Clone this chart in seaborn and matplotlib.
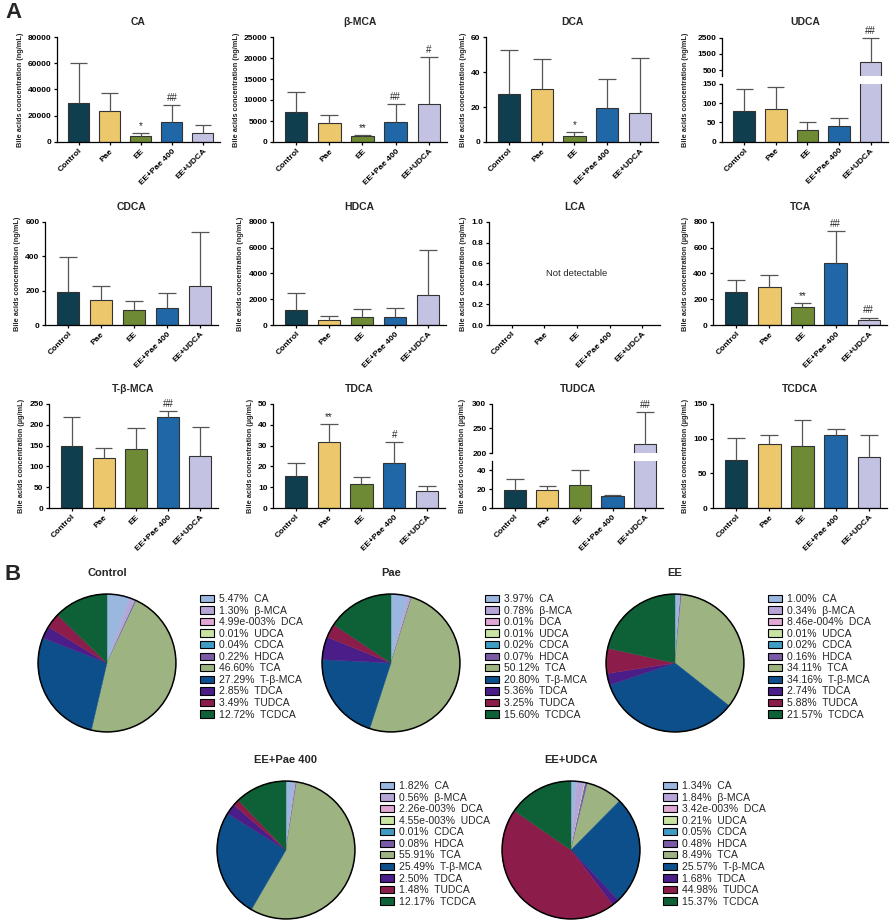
import numpy as np
import seaborn as sns
import matplotlib.pyplot as plt
from matplotlib.patches import Patch, Circle

sns.set_style('ticks')
plt.rcParams['font.family'] = ['Liberation Sans', 'DejaVu Sans']
plt.rcParams['font.weight'] = 'bold'
plt.rcParams['axes.labelweight'] = 'bold'
plt.rcParams['axes.titleweight'] = 'bold'

W, H = 892, 922

groups = ['Control', 'Pae', 'EE', 'EE+Pae 400', 'EE+UDCA']
bar_colors = ['#0f3e4f', '#ecc76b', '#6f8a34', '#1f67a6', '#c3c2e2']

# mean and top of error bar
ca_mean = [30000, 23500, 4200, 15500, 6500]
ca_top = [60000, 37500, 6500, 28000, 12800]
ca_sig = ['', '', '*', '##', '']

bmca_mean = [7100, 4600, 1400, 4700, 9000]
bmca_top = [12000, 6400, 1700, 9100, 20300]
bmca_sig = ['', '', '**', '##', '#']

dca_mean = [27.3, 30.4, 3.5, 19.5, 16.6]
dca_top = [52.8, 47.6, 5.7, 36.0, 47.8]
dca_sig = ['', '', '*', '', '']

udca_mean = [80, 86, 31, 40, 1000]
udca_top = [136, 141, 50, 61, 2500]
udca_sig = ['', '', '', '', '##']

cdca_mean = [193, 143, 90, 98, 225]
cdca_top = [395, 230, 138, 185, 540]
cdca_sig = ['', '', '', '', '']

hdca_mean = [1200, 420, 650, 620, 2350]
hdca_top = [2480, 700, 1230, 1300, 5850]
hdca_sig = ['', '', '', '', '']

tca_mean = [255, 292, 140, 480, 40]
tca_top = [350, 385, 170, 730, 58]
tca_sig = ['', '', '**', '##', '##']

tbmca_mean = [148, 121, 141, 218, 124]
tbmca_top = [218, 145, 192, 232, 195]
tbmca_sig = ['', '', '', '##', '']

tdca_mean = [15.5, 31.5, 11.5, 21.5, 8.2]
tdca_top = [21.5, 40.5, 15.0, 31.5, 10.5]
tdca_sig = ['', '**', '', '#', '']

tudca_mean = [19, 19, 24.5, 12.5, 218]
tudca_top = [31, 23, 40.5, 14, 283]
tudca_sig = ['', '', '', '', '##']

tcdca_mean = [69, 92, 89, 105, 74]
tcdca_top = [101, 106, 127, 114, 105]
tcdca_sig = ['', '', '', '', '']

# pie composition (%)
acids = ['CA', 'β-MCA', 'DCA', 'UDCA', 'CDCA', 'HDCA', 'TCA', 'T-β-MCA', 'TDCA', 'TUDCA', 'TCDCA']
acid_colors = ['#9ab7df', '#b7a5d8', '#e2a8d4', '#c9e3a2', '#3f9cc4', '#7a5aa6',
               '#9db482', '#0d4f8b', '#4b1d88', '#8c1d4b', '#0e6136']
control_pct = [5.47, 1.30, 4.99e-3, 0.01, 0.04, 0.22, 46.60, 27.29, 2.85, 3.49, 12.72]
pae_pct = [3.97, 0.78, 0.01, 0.01, 0.02, 0.07, 50.12, 20.80, 5.36, 3.25, 15.60]
ee_pct = [1.00, 0.34, 8.46e-4, 0.01, 0.02, 0.16, 34.11, 34.16, 2.74, 5.88, 21.57]
eepae_pct = [1.82, 0.56, 2.26e-3, 4.55e-3, 0.01, 0.08, 55.91, 25.49, 2.50, 1.48, 12.17]
eeudca_pct = [1.34, 1.84, 3.42e-3, 0.21, 0.05, 0.48, 8.49, 25.57, 1.68, 44.98, 15.37]

fig = plt.figure(figsize=(W / 100, H / 100), dpi=100)


def px_axes(left, top, right, bottom):
    return fig.add_axes([left / W, 1 - bottom / H, (right - left) / W, (bottom - top) / H])


def style_axis(ax):
    sns.despine(ax=ax)
    for s in ['left', 'bottom']:
        ax.spines[s].set_linewidth(0.9)
        ax.spines[s].set_color('black')
    ax.tick_params(labelsize=6, width=0.9, length=2.5, pad=1.5, colors='black')
    ax.set_xlim(-0.7, 4.55)


def draw_bars(ax, mean, top, sig, lim=None):
    sns.barplot(x=groups, y=mean, hue=groups, palette=bar_colors, legend=False, ax=ax,
                width=0.68, saturation=1, edgecolor='#333333', linewidth=0.8, errorbar=None)
    mean = np.array(mean, float)
    top = np.array(top, float)
    x = np.arange(len(mean))
    keep = np.ones(len(mean), bool) if lim is None else lim(mean, top)
    ax.vlines(x[keep], mean[keep], top[keep], color='#555555', lw=0.9, clip_on=False)
    ax.hlines(top[keep], x[keep] - 0.27, x[keep] + 0.27, color='#555555', lw=0.9, clip_on=False)
    for xi, t, s, k in zip(x, top, sig, keep):
        if s and k:
            ax.annotate(s, (xi, t), xytext=(0, 1.5), textcoords='offset points',
                        ha='center', va='bottom', fontsize=7, fontweight='normal')


def xlabels(ax):
    ax.set_xticks(range(len(groups)))
    ax.set_xticklabels(groups, rotation=45, ha='right', rotation_mode='anchor')
    ax.set_xlabel('')


def unit_label(unit):
    return f'Bile acids concentration ({unit}/mL)'


panels = [
    ('CA', ca_mean, ca_top, ca_sig, 'ng', np.arange(0, 80001, 20000), (57, 37, 220, 142)),
    ('β-MCA', bmca_mean, bmca_top, bmca_sig, 'ng', np.arange(0, 25001, 5000), (273, 37, 447, 142)),
    ('DCA', dca_mean, dca_top, dca_sig, 'ng', np.arange(0, 61, 20), (486, 37, 658, 142)),
    ('CDCA', cdca_mean, cdca_top, cdca_sig, 'ng', np.arange(0, 601, 200), (45, 222, 218, 325)),
    ('HDCA', hdca_mean, hdca_top, hdca_sig, 'ng', np.arange(0, 8001, 2000), (273, 222, 446, 325)),
    ('TCA', tca_mean, tca_top, tca_sig, 'µg', np.arange(0, 801, 200), (713, 222, 887, 325)),
    ('T-β-MCA', tbmca_mean, tbmca_top, tbmca_sig, 'µg', np.arange(0, 251, 50), (49, 404, 218, 508)),
    ('TDCA', tdca_mean, tdca_top, tdca_sig, 'µg', np.arange(0, 51, 10), (273, 404, 445, 508)),
    ('TCDCA', tcdca_mean, tcdca_top, tcdca_sig, 'µg', np.arange(0, 151, 50), (713, 404, 887, 508)),
]

for name, mean, top, sig, unit, ticks, box in panels:
    ax = px_axes(*box)
    draw_bars(ax, mean, top, sig)
    style_axis(ax)
    ax.set_ylim(ticks[0], ticks[-1])
    ax.set_yticks(ticks)
    xlabels(ax)
    ax.set_ylabel(unit_label(unit), fontsize=5.3, labelpad=3)
    ax.set_title(name, fontsize=7.5, pad=9)

# LCA: nothing detected
ax = px_axes(489, 222, 660, 325)
style_axis(ax)
ax.set_ylim(0, 1)
ax.set_yticks(np.arange(0, 1.01, 0.2))
ax.set_yticklabels([f'{v:.1f}' for v in np.arange(0, 1.01, 0.2)])
xlabels(ax)
ax.set_ylabel(unit_label('ng'), fontsize=5.3, labelpad=3)
ax.set_title('LCA', fontsize=7.5, pad=9)
ax.text(2, 0.5, 'Not detectable', ha='center', va='center', fontsize=6.8, fontweight='normal')

# broken-axis panels
broken = [
    ('UDCA', udca_mean, udca_top, udca_sig, 'ng', [0, 50, 100, 150], [500, 1500, 2500],
     150, (150, 2500), (722, 37.7, 888, 76), (722, 84, 888, 141.7), (-0.2, 0.9)),
    ('TUDCA', tudca_mean, tudca_top, tudca_sig, 'µg', [0, 20, 40], [200, 250, 300],
     50, (200, 300), (492, 404, 663, 453), (492, 461, 663, 508), (-0.15, 1.1)),
]

for name, mean, top, sig, unit, lo_ticks, hi_ticks, lo_max, hi_lim, hi_box, lo_box, lab in broken:
    ax_hi = px_axes(*hi_box)
    ax_lo = px_axes(*lo_box)
    draw_bars(ax_hi, mean, top, sig, lim=lambda m, t: m >= lo_max)
    draw_bars(ax_lo, mean, top, sig, lim=lambda m, t: t <= lo_max)
    for a in (ax_hi, ax_lo):
        style_axis(a)
    ax_lo.set_ylim(0, lo_max)
    ax_lo.set_yticks(lo_ticks)
    xlabels(ax_lo)
    ax_hi.set_ylim(*hi_lim)
    ax_hi.set_yticks(hi_ticks)
    ax_hi.spines['bottom'].set_visible(False)
    ax_hi.set_xticks([])
    ax_hi.set_xlabel('')
    ax_hi.set_ylabel('')
    ax_hi.set_title(name, fontsize=7.5, pad=9)
    ax_lo.set_ylabel(unit_label(unit), fontsize=5.3)
    ax_lo.yaxis.set_label_coords(*lab)


# panel B: pies
def fmt_pct(v):
    if v < 0.005:
        mant, exp = f'{v:.2e}'.split('e')
        return f'{mant}e-{abs(int(exp)):03d}%'
    return f'{v:.2f}%'


pies = [
    ('Control', control_pct, (107, 663), (200, 594)),
    ('Pae', pae_pct, (391, 663), (485, 594)),
    ('EE', ee_pct, (675, 663), (768, 594)),
    ('EE+Pae 400', eepae_pct, (286, 850), (380, 781)),
    ('EE+UDCA', eeudca_pct, (571, 850), (663, 781)),
]

for name, pct, (cx, cy), (lx, ly) in pies:
    ax = px_axes(cx - 71, cy - 71, cx + 71, cy + 71)
    wedges, _ = ax.pie(pct, colors=acid_colors, startangle=90, counterclock=False, radius=1)
    for w in wedges:
        w.set_edgecolor(w.get_facecolor())
        w.set_linewidth(0.3)
    ax.add_patch(Circle((0, 0), 1, fill=False, ec='black', lw=1.1))
    ax.set_xlim(-1.03, 1.03)
    ax.set_ylim(-1.03, 1.03)
    ax.set_aspect('equal')
    ax.axis('off')
    fig.text(cx / W, 1 - (cy - 90) / H, name, ha='center', va='center', fontsize=8, fontweight='bold')
    handles = [Patch(facecolor=c, edgecolor='black', linewidth=0.8) for c in acid_colors]
    labels = [f'{fmt_pct(v)}  {a}' for v, a in zip(pct, acids)]
    fig.legend(handles, labels, loc='upper left', bbox_to_anchor=(lx / W, 1 - ly / H),
               frameon=False, prop={'size': 7.5, 'weight': 'normal'}, handlelength=1.3,
               handleheight=0.7, handletextpad=0.5, labelspacing=0.15,
               borderpad=0, borderaxespad=0)

fig.text(5 / W, 1 - 12 / H, 'A', fontsize=16, fontweight='bold', va='center')
fig.text(5 / W, 1 - 574 / H, 'B', fontsize=16, fontweight='bold', va='center')

fig.savefig('out.png', dpi=100)
